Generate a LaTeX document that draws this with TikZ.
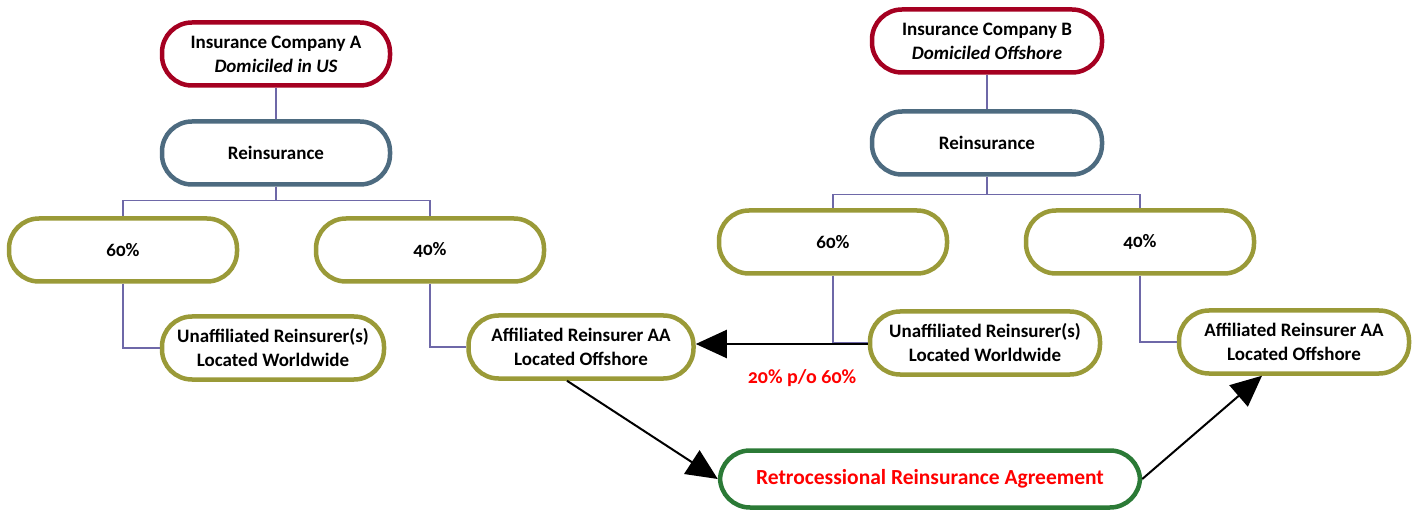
\documentclass[tikz,border=0pt]{standalone}
\usepackage{fontspec}
\setmainfont{Carlito}[Numbers=OldStyle]
\usetikzlibrary{arrows.meta}
\definecolor{cred}{HTML}{A50021}
\definecolor{cblue}{HTML}{4D6B80}
\definecolor{colive}{HTML}{9A9A38}
\definecolor{cgreen}{HTML}{2B7A36}
\definecolor{cline}{HTML}{6E68A8}
\definecolor{tred}{HTML}{FF0000}
\tikzset{
  pill/.style={draw, line width=4.5pt, rounded corners=30pt, fill=white, inner sep=0pt,
    minimum width=228pt, minimum height=63pt, align=center, font=\fontsize{19}{24}\selectfont\bfseries},
  redpill/.style={pill, draw=cred},
  bluepill/.style={pill, draw=cblue},
  olivepill/.style={pill, draw=colive},
  greenpill/.style={pill, draw=cgreen},
  conn/.style={cline, line width=1.3pt},
  bigarrow/.style={black, line width=2pt, -{Triangle[length=31pt,width=28pt]}}
}
\begin{document}
\begin{tikzpicture}[x=1pt,y=-1pt]
\useasboundingbox (0,0) rectangle (1413,510);
% left tree
\node[redpill] (insA) at (276,54) {Insurance Company A\\\itshape Domiciled in US};
\node[bluepill] (reA) at (276,153) {Reinsurance};
\node[olivepill] (sixA) at (123,250) {60\%};
\node[olivepill] (fourA) at (430,250) {40\%};
\node[olivepill, minimum width=222pt] (unA) at (273,348) {Unaffiliated Reinsurer(s)\\Located Worldwide};
\node[olivepill, minimum width=225pt] (afA) at (581,347) {Affiliated Reinsurer AA\\Located Offshore};
% right tree
\node[redpill, minimum width=230pt] (insB) at (987,41) {Insurance Company B\\\itshape Domiciled Offshore};
\node[bluepill, minimum width=230pt] (reB) at (987,143) {Reinsurance};
\node[olivepill] (sixB) at (833,242) {60\%};
\node[olivepill] (fourB) at (1140,242) {40\%};
\node[olivepill, minimum width=230pt] (unB) at (985,343) {Unaffiliated Reinsurer(s)\\Located Worldwide};
\node[olivepill, minimum width=230pt] (afB) at (1294,342) {Affiliated Reinsurer AA\\Located Offshore};
% retro
\node[greenpill, minimum width=420pt, minimum height=57pt, font=\fontsize{21.5}{26}\selectfont\bfseries, text=tred] (retro) at (930,479) {Retrocessional Reinsurance Agreement};
% connectors
\draw[conn] (insA.south) -- (reA.north);
\draw[conn] (reA.south) -- ++(0,14) -| (sixA.north);
\draw[conn] (reA.south) -- ++(0,14) -| (fourA.north);
\draw[conn] (sixA.south) |- (unA.west);
\draw[conn] (fourA.south) |- (afA.west);
\draw[conn] (insB.south) -- (reB.north);
\draw[conn] (reB.south) -- ++(0,18) -| (sixB.north);
\draw[conn] (reB.south) -- ++(0,18) -| (fourB.north);
\draw[conn] (sixB.south) |- (unB.west);
\draw[conn] (fourB.south) |- (afB.west);
% arrows
\coordinate (unBw) at ([yshift=-1pt]unB.west);
\draw[bigarrow] (unBw) -- (unBw -| afA.east);
\node[text=tred, font=\fontsize{20}{24}\selectfont\bfseries] (lab) at (802,378) {20\% p/o 60\%};
\draw[bigarrow] ([xshift=-14pt]afA.south) -- (retro.west);
\draw[bigarrow] (retro.east) -- ([xshift=-32pt]afB.south);
\end{tikzpicture}
\end{document}
